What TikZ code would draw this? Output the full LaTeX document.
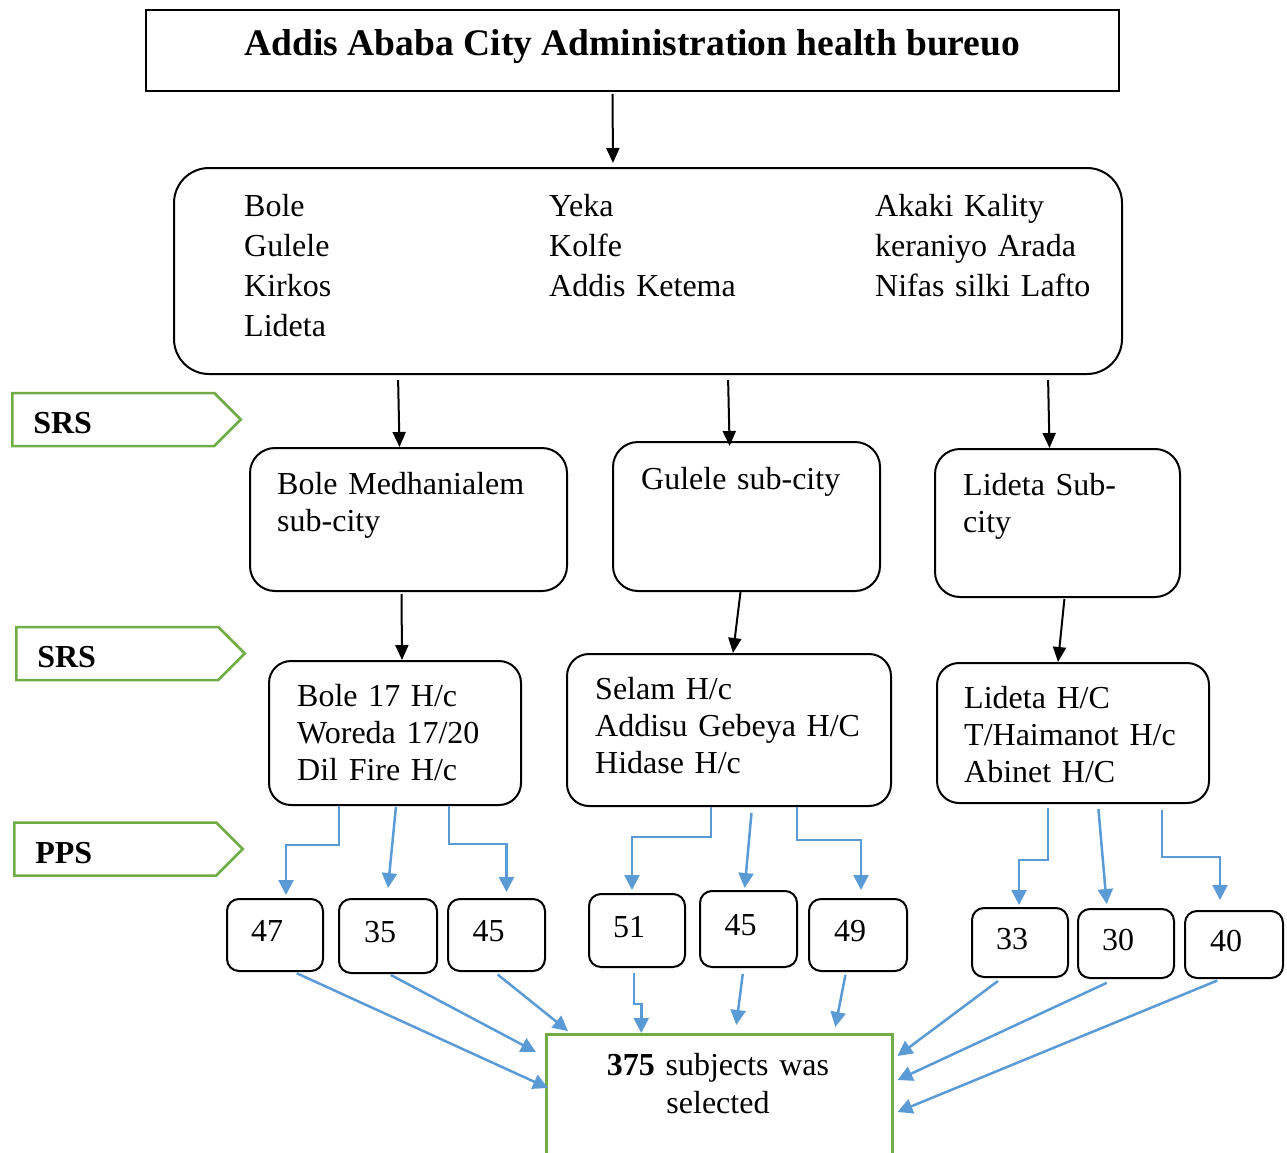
\documentclass[tikz,border=0pt]{standalone}
\usepackage{fontspec}
\setmainfont{Liberation Serif}
\usetikzlibrary{arrows.meta,shapes.symbols}
\definecolor{tagGreen}{HTML}{70AD47}
\definecolor{flowBlue}{HTML}{5B9BD5}
\newcommand{\bodyfont}{\fontsize{32pt}{37pt}\selectfont}

\begin{document}
\begin{tikzpicture}[x=1pt,y=-1pt,
    post/.style={-{Triangle[length=15pt,width=13pt]},line width=2pt},
    flow/.style={-{Triangle[length=15pt,width=15pt]},line width=2.5pt,draw=flowBlue},
    box/.style={draw,line width=2pt,rounded corners=#1,anchor=north west,inner sep=0pt},
    box/.default=25pt,
    txt/.style={font=\bodyfont,anchor=base west,inner sep=0pt,text width=330pt,align=left},
    numbox/.style={draw,line width=2pt,rounded corners=12pt,anchor=north west,font=\bodyfont,
      inner xsep=24pt,inner ysep=0pt,text width=48pt,align=left,text depth=8pt},
    tag/.style={draw=tagGreen,line width=2.5pt,signal,signal to=east,signal pointer angle=90,
      minimum height=53pt,inner xsep=21pt,text width=160pt,text height=29pt,align=left,
      anchor=west,font=\bodyfont\bfseries}
  ]
  \useasboundingbox (0,0) rectangle (1287,1153);

  % bureau and sub-cities
  \node[draw,line width=2pt,anchor=north west,minimum width=973pt,minimum height=81pt,
    font=\fontsize{37.5pt}{40pt}\selectfont\bfseries,text depth=16pt] (bureau) at (145,9)
    {Addis Ababa City Administration health bureuo};
  \node[box=35pt,minimum width=948pt,minimum height=206pt] (subcities) at (173,167) {};
  \node[txt,font=\fontsize{32pt}{40pt}\selectfont] (colA) at (244,216) {Bole\\Gulele\\Kirkos\\Lideta};
  \node[txt,font=\fontsize{32pt}{40pt}\selectfont] (colB) at (549,216) {Yeka\\Kolfe\\Addis Ketema};
  \node[txt,font=\fontsize{32pt}{40pt}\selectfont] (colC) at (875,216) {Akaki Kality\\keraniyo Arada\\Nifas silki Lafto};

  % sampling tags
  \node[tag] (srsA) at (11,419.5) {SRS};
  \node[tag] (srsB) at (15,653.5) {SRS};
  \node[tag] (pps) at (13,849) {PPS};

  % selected sub-cities
  \node[box,minimum width=317pt,minimum height=143pt] (bolesc) at (249,447) {};
  \node[txt] (bolesctxt) at (277,494) {Bole Medhanialem\\sub-city};
  \node[box,minimum width=267pt,minimum height=149pt] (gulelesc) at (612,441) {};
  \node[txt] (gulelesctxt) at (641,489) {Gulele sub-city};
  \node[box,minimum width=245pt,minimum height=148pt] (lidetasc) at (934,448) {};
  \node[txt] (lidetasctxt) at (963,495) {Lideta Sub-\\city};

  % health centers
  \node[box=22pt,minimum width=252pt,minimum height=144pt] (bolehc) at (268,660) {};
  \node[txt] (bolehctxt) at (297,706) {Bole 17 H/c\\Woreda 17/20\\Dil Fire H/c};
  \node[box=22pt,minimum width=324pt,minimum height=152pt] (selamhc) at (566,653) {};
  \node[txt] (selamhctxt) at (595,699) {Selam H/c\\Addisu Gebeya H/C\\Hidase H/c};
  \node[box=22pt,minimum width=272pt,minimum height=140pt] (lidetahc) at (936,662) {};
  \node[txt] (lidetahctxt) at (964,708) {Lideta H/C\\T/Haimanot H/c\\Abinet H/C};

  % sample sizes
  \node[numbox,minimum width=96pt,minimum height=72pt] (n47) at (226,898) {47};
  \node[numbox,minimum width=98pt,minimum height=74pt] (n35) at (338,898) {35};
  \node[numbox,minimum width=97pt,minimum height=72pt] (n45a) at (447,898) {45};
  \node[numbox,minimum width=96pt,minimum height=73pt] (n51) at (588,893) {51};
  \node[numbox,minimum width=97pt,minimum height=76pt] (n45b) at (699,890) {45};
  \node[numbox,minimum width=98pt,minimum height=72pt] (n49) at (808,898) {49};
  \node[numbox,minimum width=94pt,minimum height=69pt] (n33) at (971,907) {33};
  \node[numbox,minimum width=95pt,minimum height=69pt] (n30) at (1077,908) {30};
  \node[numbox,minimum width=98pt,minimum height=67pt] (n40) at (1184,910) {40};

  \node[draw=tagGreen,line width=2.5pt,anchor=north west,minimum width=346pt,
    minimum height=160pt,inner sep=0pt] (sample) at (545,1033) {};
  \node[txt,anchor=base,text width=346pt,align=center,font=\fontsize{32pt}{38pt}\selectfont]
    (sampletxt) at (718,1075) {\textbf{375} subjects was\\selected};

  % black arrows
  \draw[post,shorten <=2pt,shorten >=4pt] ([xshift=-20pt]bureau.south) -- ([xshift=-35pt]subcities.north);
  \draw[post,shorten <=5pt] ([xshift=-250pt]subcities.south) -- ([xshift=-9pt]bolesc.north);
  \draw[post,shorten <=5pt,shorten >=-5pt] ([xshift=80pt]subcities.south) -- ([xshift=-17pt]gulelesc.north);
  \draw[post,shorten <=5pt] ([xshift=400pt]subcities.south) -- ([xshift=-8pt]lidetasc.north);
  \draw[post,shorten <=2pt] ([xshift=-7pt]bolesc.south) -- ([xshift=7pt]bolehc.north);
  \draw[post] ([xshift=-6pt]gulelesc.south) -- ([xshift=4pt]selamhc.north);
  \draw[post,shorten <=1pt] ([xshift=7pt]lidetasc.south) -- ([xshift=-15pt]lidetahc.north);

  % blue arrows to sample sizes
  \draw[flow,shorten >=3pt] ([xshift=-56pt]bolehc.south) -- ++(0,39) -| ([xshift=11pt]n47.north);
  \draw[flow,shorten <=1pt,shorten >=10pt] ([xshift=1pt]bolehc.south) -- ([xshift=-1pt]n35.north);
  \draw[flow,shorten >=6pt] ([xshift=54pt]bolehc.south) -- ++(0,38) -| ([xshift=10pt]n45a.north);
  \draw[flow,shorten >=3pt] ([xshift=-18pt]selamhc.south) -- ++(0,30) -| ([xshift=-5pt]n51.north);
  \draw[flow,shorten <=6pt,shorten >=2pt] ([xshift=23pt]selamhc.south) -- ([xshift=-4pt]n45b.north);
  \draw[flow,shorten >=8pt] ([xshift=68pt]selamhc.south) -- ++(0,33) -| ([xshift=3pt]n49.north);
  \draw[flow,shorten <=4pt,shorten >=2pt] ([xshift=-25pt]lidetahc.south) -- ++(0,56) -| ([xshift=-1pt]n33.north);
  \draw[flow,shorten <=5pt,shorten >=4pt] ([xshift=25pt]lidetahc.south) -- ([xshift=-19pt]n30.north);
  \draw[flow,shorten <=6pt,shorten >=10pt] ([xshift=89pt]lidetahc.south) -- ++(0,53) -| ([xshift=-14pt]n40.north);

  % blue arrows to the sample
  \draw[flow,shorten <=3pt] ([xshift=19pt]n47.south) -- ([xshift=3pt,yshift=-55pt]sample.north west);
  \draw[flow,shorten <=2pt] ([xshift=1pt]n35.south) -- ([xshift=-9pt,yshift=-19pt]sample.north west);
  \draw[flow,shorten <=4pt] ([xshift=-2pt]n45a.south) -- ([xshift=23pt,yshift=2pt]sample.north west);
  \draw[flow,shorten <=5pt] ([xshift=-3pt]n51.south) -- ++(0,36) -| ([xshift=-78pt]sample.north);
  \draw[flow,shorten <=6pt] ([xshift=-5pt]n45b.south) -- ([xshift=17pt,yshift=8pt]sample.north);
  \draw[flow,shorten <=3pt] ([xshift=-12pt]n49.south) -- ([xshift=116pt,yshift=6pt]sample.north);
  \draw[flow,shorten <=5pt] ([xshift=-18pt]n33.south) -- ([xshift=4pt,yshift=-23pt]sample.north east);
  \draw[flow,shorten <=9pt] ([xshift=-11pt]n30.south) -- ([xshift=4pt,yshift=-47pt]sample.north east);
  \draw[flow,shorten <=4pt] ([xshift=-13pt]n40.south) -- ([xshift=4pt,yshift=-79pt]sample.north east);
\end{tikzpicture}
\end{document}
